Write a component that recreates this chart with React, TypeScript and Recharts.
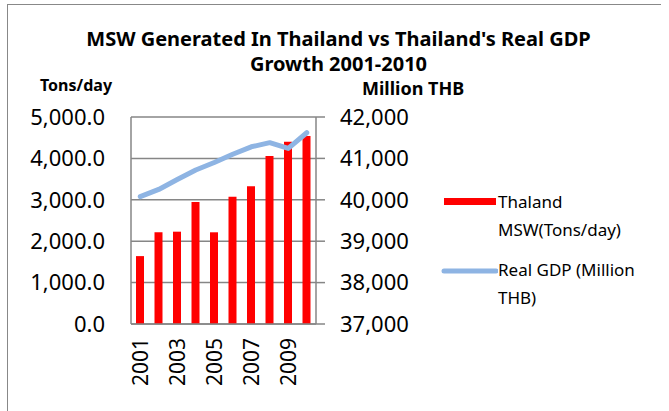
import React from "react";
import {
  ComposedChart,
  Bar,
  Line,
  XAxis,
  YAxis,
  CartesianGrid,
} from "recharts";

const years = ["2001", "2002", "2003", "2004", "2005", "2006", "2007", "2008", "2009", "2010"];
const mswTonsPerDay = [1640, 2215, 2230, 2945, 2215, 3075, 3325, 4060, 4405, 4540];
const realGdp = [40075, 40250, 40490, 40720, 40900, 41100, 41280, 41380, 41240, 41620];
const leftTicks = [0, 1000, 2000, 3000, 4000, 5000];
const rightTicks = [37000, 38000, 39000, 40000, 41000, 42000];
const mswName = "Thaland MSW(Tons/day)";
const gdpName = "Real GDP (Million THB)";

const data = years.map((year, i) => ({
  year,
  msw: mswTonsPerDay[i],
  gdp: realGdp[i],
}));

const FONT = "'Noto Sans', 'Open Sans', sans-serif";
const GRID = "#868686";
const RED = "#FF0000";
const BLUE = "#8EB4E3";

const YearTick = (props: any) => {
  const { x, y, payload } = props;
  return (
    <text
      x={x}
      y={y + 6}
      transform={`rotate(-90, ${x}, ${y + 6})`}
      textAnchor="end"
      dy="0.36em"
      fontSize={21}
      fontFamily={FONT}
      fill="#000"
    >
      {payload.value}
    </text>
  );
};

// legend drawn by hand, the recharts Legend eats into the plot width
const legendItems = [
  { name: mswName, color: RED, type: "rect" },
  { name: gdpName, color: BLUE, type: "line" },
];

const LegendBox = () => (
  <div style={{ position: "absolute", left: 440, top: 188, fontFamily: FONT, fontSize: 17, color: "#000", lineHeight: "28px" }}>
    {legendItems.map((it) => (
      <div key={it.name} style={{ display: "flex", alignItems: "flex-start", marginBottom: 12 }}>
        <svg width={58} height={28} style={{ flex: "none" }}>
          {it.type === "rect" ? (
            <rect x={4} y={10} width={52} height={7} fill={it.color} />
          ) : (
            <line x1={4} y1={15} x2={56} y2={15} stroke={it.color} strokeWidth={5} strokeLinecap="round" />
          )}
        </svg>
        <div style={{ width: 150 }}>{it.name}</div>
      </div>
    ))}
  </div>
);

export default function App() {
  return (
    <div style={{ position: "absolute", left: 0, top: 0, width: 669, height: 411, background: "#fff", fontFamily: FONT, overflow: "hidden" }}>
      <div style={{ position: "absolute", left: 7, top: 4, width: 653, height: 420, borderLeft: "1.5px solid #888", borderTop: "1.5px solid #888" }} />
      <div
        style={{
          position: "absolute",
          left: 0,
          width: 669,
          top: 26,
          textAlign: "center",
          fontWeight: 700,
          fontSize: 20,
          lineHeight: "25px",
          paddingLeft: 8,
          boxSizing: "border-box",
        }}
      >
        MSW Generated In Thailand vs Thailand's Real GDP
        <br />
        Growth 2001-2010
      </div>
      <div style={{ position: "absolute", left: 40, top: 74, fontWeight: 700, fontSize: 16 }}>Tons/day</div>
      <div style={{ position: "absolute", left: 362, top: 76, fontWeight: 700, fontSize: 18 }}>Million THB</div>
      <ComposedChart
        width={669}
        height={411}
        data={data}
        margin={{ top: 117, right: 243, bottom: 0, left: 0 }}
        barCategoryGap={0}
        style={{ position: "absolute", left: 0, top: 0 }}
      >
        <CartesianGrid yAxisId="left" vertical={false} stroke={GRID} strokeWidth={1.5} />
        <XAxis
          dataKey="year"
          interval={1}
          height={87}
          tickLine={false}
          axisLine={{ stroke: GRID, strokeWidth: 1.5 }}
          tick={<YearTick />}
        />
        <YAxis
          yAxisId="left"
          width={131}
          domain={[0, 5000]}
          ticks={leftTicks}
          tickSize={0}
          tickMargin={26}
          axisLine={{ stroke: GRID, strokeWidth: 1.5 }}
          tickFormatter={(v: number) => v.toLocaleString("en-US", { minimumFractionDigits: 1, maximumFractionDigits: 1 })}
          tick={{ fill: "#000", fontSize: 22, fontFamily: FONT }}
        />
        <YAxis
          yAxisId="right"
          orientation="right"
          width={110}
          domain={[37000, 42000]}
          ticks={rightTicks}
          tickSize={9}
          tickMargin={15}
          axisLine={{ stroke: GRID, strokeWidth: 1.5 }}
          tickLine={{ stroke: GRID, strokeWidth: 1.5 }}
          tickFormatter={(v: number) => v.toLocaleString("en-US")}
          tick={{ fill: "#000", fontSize: 22, fontFamily: FONT }}
        />
        <Bar
          yAxisId="left"
          dataKey="msw"
          name={mswName}
          fill={RED}
          barSize={8}
          isAnimationActive={false}
        />
        <Line
          yAxisId="right"
          dataKey="gdp"
          name={gdpName}
          stroke={BLUE}
          strokeWidth={5}
          strokeLinecap="round"
          strokeLinejoin="round"
          dot={false}
          isAnimationActive={false}
        />
      </ComposedChart>
      <LegendBox />
    </div>
  );
}
